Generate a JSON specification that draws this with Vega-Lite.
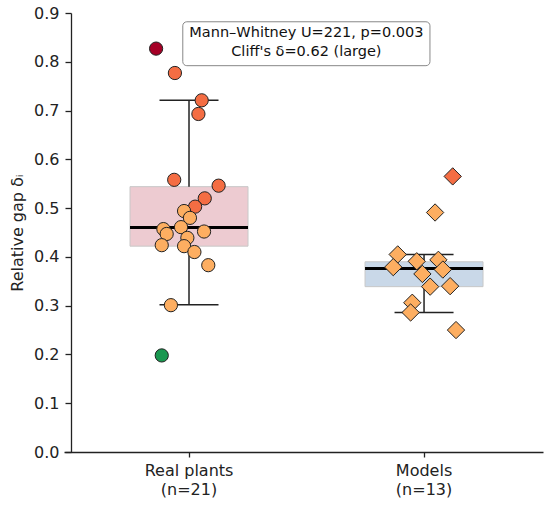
{
  "$schema": "https://vega.github.io/schema/vega-lite/v6.json",
  "width": 479,
  "height": 439,
  "autosize": {"type": "none"},
  "padding": {"left": 64, "top": 13, "right": 7, "bottom": 53},
  "config": {
    "font": "DejaVu Sans",
    "view": {"stroke": null},
    "axis": {
      "grid": false,
      "domainColor": "#222222",
      "domainWidth": 1.3,
      "tickColor": "#222222",
      "tickWidth": 1.3,
      "labelColor": "#222222",
      "labelFontSize": 16,
      "titleColor": "#222222",
      "titleFontSize": 16,
      "titleFontWeight": "normal"
    }
  },
  "datasets": {
    "points": [
      {"group": "Real plants", "value": 0.827, "jitter": -0.140},
      {"group": "Real plants", "value": 0.777, "jitter": -0.060},
      {"group": "Real plants", "value": 0.721, "jitter": 0.054},
      {"group": "Real plants", "value": 0.693, "jitter": 0.040},
      {"group": "Real plants", "value": 0.558, "jitter": -0.063},
      {"group": "Real plants", "value": 0.546, "jitter": 0.126},
      {"group": "Real plants", "value": 0.520, "jitter": 0.067},
      {"group": "Real plants", "value": 0.503, "jitter": 0.026},
      {"group": "Real plants", "value": 0.494, "jitter": -0.021},
      {"group": "Real plants", "value": 0.480, "jitter": 0.004},
      {"group": "Real plants", "value": 0.457, "jitter": -0.109},
      {"group": "Real plants", "value": 0.447, "jitter": -0.095},
      {"group": "Real plants", "value": 0.461, "jitter": -0.034},
      {"group": "Real plants", "value": 0.452, "jitter": 0.064},
      {"group": "Real plants", "value": 0.439, "jitter": -0.007},
      {"group": "Real plants", "value": 0.424, "jitter": -0.116},
      {"group": "Real plants", "value": 0.422, "jitter": -0.021},
      {"group": "Real plants", "value": 0.410, "jitter": 0.023},
      {"group": "Real plants", "value": 0.383, "jitter": 0.082},
      {"group": "Real plants", "value": 0.301, "jitter": -0.077},
      {"group": "Real plants", "value": 0.198, "jitter": -0.116},
      {"group": "Models", "value": 0.565, "jitter": 0.122},
      {"group": "Models", "value": 0.491, "jitter": 0.047},
      {"group": "Models", "value": 0.405, "jitter": -0.112},
      {"group": "Models", "value": 0.379, "jitter": -0.131},
      {"group": "Models", "value": 0.391, "jitter": -0.031},
      {"group": "Models", "value": 0.394, "jitter": 0.061},
      {"group": "Models", "value": 0.374, "jitter": 0.080},
      {"group": "Models", "value": 0.365, "jitter": -0.007},
      {"group": "Models", "value": 0.339, "jitter": 0.026},
      {"group": "Models", "value": 0.340, "jitter": 0.111},
      {"group": "Models", "value": 0.306, "jitter": -0.050},
      {"group": "Models", "value": 0.286, "jitter": -0.057},
      {"group": "Models", "value": 0.250, "jitter": 0.136}
    ],
    "stats": [
      {"group": "Real plants", "lo": 0.302, "q1": 0.422, "med": 0.460, "q3": 0.544, "hi": 0.721},
      {"group": "Models", "lo": 0.286, "q1": 0.339, "med": 0.376, "q3": 0.390, "hi": 0.405}
    ],
    "note": [
      {"line1": "Mann–Whitney U=221, p=0.003", "line2": "Cliff's δ=0.62 (large)"}
    ]
  },
  "resolve": {"scale": {"x": "independent"}},
  "layer": [
    {
      "encoding": {
        "x": {
          "field": "group",
          "type": "nominal",
          "sort": null,
          "scale": {
            "domain": ["Real plants", "Models"],
            "paddingInner": 0.498,
            "paddingOuter": 0.268,
            "align": 0.524
          },
          "axis": {
            "title": null,
            "labelAngle": 0,
            "tickSize": 5,
            "labelPadding": 5,
            "labelLineHeight": 19,
            "labelExpr": "datum.value == 'Real plants' ? ['Real plants', '(n=21)'] : ['Models', '(n=13)']"
          }
        }
      },
      "layer": [
        {
          "data": {"name": "stats"},
          "mark": {"type": "bar", "stroke": "#c8c8c8", "strokeWidth": 1, "width": 118},
          "encoding": {
            "y": {
              "field": "q1",
              "type": "quantitative",
              "scale": {"domain": [0, 0.9], "nice": false},
              "axis": {
                "title": "Relative gap  δᵢ",
                "values": [0, 0.1, 0.2, 0.3, 0.4, 0.5, 0.6, 0.7, 0.8, 0.9],
                "format": ".1f",
                "tickSize": 6,
                "labelPadding": 6,
                "titlePadding": 8,
                "offset": -7
              }
            },
            "y2": {"field": "q3"},
            "color": {
              "field": "group",
              "type": "nominal",
              "scale": {"domain": ["Real plants", "Models"], "range": ["#edcbd1", "#c9d8e8"]},
              "legend": null
            }
          }
        },
        {
          "data": {"name": "stats"},
          "mark": {"type": "rule", "color": "#222222", "strokeWidth": 1.5},
          "encoding": {
            "y": {"field": "q3", "type": "quantitative"},
            "y2": {"field": "hi"}
          }
        },
        {
          "data": {"name": "stats"},
          "mark": {"type": "rule", "color": "#222222", "strokeWidth": 1.5},
          "encoding": {
            "y": {"field": "lo", "type": "quantitative"},
            "y2": {"field": "q1"}
          }
        },
        {
          "data": {"name": "stats"},
          "mark": {"type": "tick", "orient": "horizontal", "color": "#222222", "size": 59, "thickness": 1.5, "opacity": 1},
          "encoding": {"y": {"field": "hi", "type": "quantitative"}}
        },
        {
          "data": {"name": "stats"},
          "mark": {"type": "tick", "orient": "horizontal", "color": "#222222", "size": 59, "thickness": 1.5, "opacity": 1},
          "encoding": {"y": {"field": "lo", "type": "quantitative"}}
        },
        {
          "data": {"name": "stats"},
          "mark": {"type": "tick", "orient": "horizontal", "color": "#000000", "size": 118, "thickness": 3, "opacity": 1},
          "encoding": {"y": {"field": "med", "type": "quantitative"}}
        },
        {
          "data": {"name": "points"},
          "mark": {"type": "point", "filled": true, "stroke": "#222222", "strokeWidth": 1, "opacity": 1},
          "encoding": {
            "xOffset": {
              "field": "jitter",
              "type": "quantitative",
              "scale": {"domain": [-0.251, 0.251]}
            },
            "y": {"field": "value", "type": "quantitative"},
            "fill": {
              "field": "value",
              "type": "quantitative",
              "scale": {
                "type": "threshold",
                "domain": [0.24, 0.5, 0.8],
                "range": ["#1a9850", "#fdae61", "#f46d43", "#a50026"]
              },
              "legend": null
            },
            "shape": {
              "field": "group",
              "type": "nominal",
              "scale": {"domain": ["Real plants", "Models"], "range": ["circle", "diamond"]},
              "legend": null
            },
            "size": {
              "field": "group",
              "type": "nominal",
              "scale": {"domain": ["Real plants", "Models"], "range": [175, 300]},
              "legend": null
            }
          }
        }
      ]
    },
    {
      "data": {"name": "note"},
      "layer": [
        {
          "mark": {"type": "rect", "fill": "white", "stroke": "#888888", "strokeWidth": 1, "cornerRadius": 4},
          "encoding": {
            "x": {"datum": 0.248, "type": "quantitative", "scale": {"domain": [0, 1]}, "axis": null},
            "x2": {"datum": 0.764},
            "y": {"datum": 0.882, "type": "quantitative"},
            "y2": {"datum": 0.792}
          }
        },
        {
          "mark": {
            "type": "text",
            "fontSize": 14.5,
            "lineHeight": 19,
            "align": "center",
            "baseline": "middle",
            "color": "#111111"
          },
          "encoding": {
            "x": {"datum": 0.506, "type": "quantitative", "scale": {"domain": [0, 1]}, "axis": null},
            "y": {"datum": 0.859, "type": "quantitative"},
            "text": {"value": ["Mann–Whitney U=221, p=0.003", "Cliff's δ=0.62 (large)"]}
          }
        }
      ]
    }
  ]
}
